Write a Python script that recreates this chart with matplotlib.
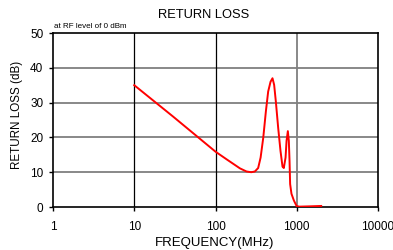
import matplotlib
matplotlib.use("Agg")
import matplotlib.pyplot as plt

plt.rcParams['font.family'] = ['Liberation Sans', 'DejaVu Sans']

freq_mhz = [10, 30, 100, 137, 200, 241, 275, 305, 335, 359, 387, 417, 445, 476, 503,
            527, 553, 591, 631, 668, 693, 728, 749, 777, 799, 815, 829, 861, 921,
            994, 1071, 1500, 2000]
return_loss_db = [35, 26, 15.9, 13.7, 11.1, 10.2, 10.0, 10.2, 11.2, 14.2, 19.9, 27.5,
                  33.2, 36, 37.0, 35.1, 30.3, 22.7, 16.1, 11.6, 11.2, 14.2, 19, 21.8,
                  19, 13.3, 6.6, 3.8, 1.9, 0.3, 0.1, 0.2, 0.3]
x_ticks = [1, 10, 100, 1000, 10000]
x_tick_labels = ["1", "10", "100", "1000", "10000"]
y_ticks = [0, 10, 20, 30, 40, 50]

fig = plt.figure(figsize=(3.93, 2.5), dpi=100)
ax = fig.add_axes([53/393, 1-207/250, (378-53)/393, (207-33)/250])
ax.set_xscale('log')
ax.set_xlim(1, 10000)
ax.set_ylim(0, 50)

for y in y_ticks[1:-1]:
    ax.axhline(y, color='#7f7f7f', lw=1.3, zorder=1)
ax.axvline(10, color='black', lw=0.9, zorder=1)
ax.axvline(100, color='black', lw=0.9, zorder=1)
ax.axvline(1000, color='#7f7f7f', lw=1.3, zorder=1)

ax.plot(freq_mhz, return_loss_db, color='#ff0000', lw=1.4, zorder=3)

ax.set_xticks(x_ticks)
ax.set_xticklabels(x_tick_labels)
ax.minorticks_off()
ax.set_yticks(y_ticks)
ax.tick_params(axis='x', length=3, width=1, pad=7, labelsize=8.5, direction='out')
ax.tick_params(axis='y', length=3, width=1, pad=4, labelsize=8.5, direction='out')
for s in ax.spines.values():
    s.set_linewidth(1.2)
    s.set_color('black')

fig.text(204/393, 1-15/250, "RETURN LOSS", ha='center', va='center', fontsize=9.3)
fig.text(215/393, 1-243/250, "FREQUENCY(MHz)", ha='center', va='center', fontsize=9.5)
fig.text(17/393, 1-115/250, "RETURN LOSS (dB)", ha='center', va='center', rotation=90, fontsize=8.4)
fig.text(54/393, 1-28/250, "at RF level of 0 dBm", ha='left', va='baseline', fontsize=5.8)

fig.savefig("out.png", dpi=100)
